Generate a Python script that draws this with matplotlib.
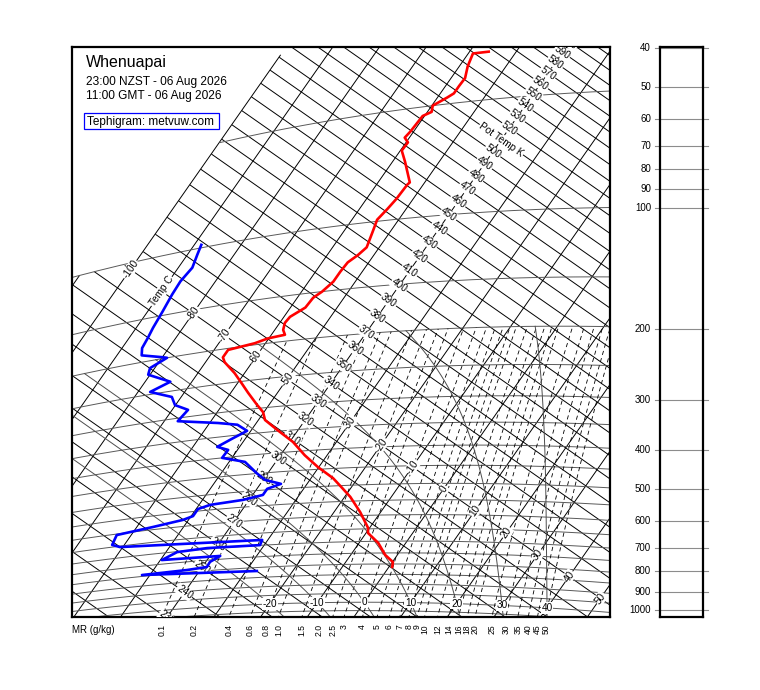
import numpy as np
import matplotlib
matplotlib.use('Agg')
import matplotlib.pyplot as plt
from matplotlib import transforms
from matplotlib.patches import Rectangle

plt.rcParams['font.family'] = ['Liberation Sans', 'DejaVu Sans']

# ---- sounding (pressure hPa, temperature C) ----
red_p = [37, 37, 40, 43, 45, 47, 48, 50, 52, 53, 58, 60, 62, 65,
         70, 80, 81, 88, 93, 99, 107, 117, 122, 127, 134, 142, 150, 155,
         164, 172, 178, 186, 192, 194, 198, 202, 211, 218, 236, 253, 270, 293,
         308, 324, 347, 377, 411, 444, 477, 507, 536, 588, 647, 666, 707, 759,
         791, 814]
red_t = [-55.9, -59.0, -58.2, -57.0, -57.1, -57.1, -57.9, -59.8, -59.1, -60.4, -60.7, -61.0, -59.6, -59.7,
         -57.3, -53.2, -53.4, -53.6, -54.0, -54.6, -53.7, -52.7, -53.4, -54.5, -54.7, -54.7, -55.6, -56.6,
         -56.8, -58.7, -58.9, -58.2, -57.1, -60.2, -62.3, -67.0, -67.0, -65.9, -62.1, -59.1, -56.3, -52.6,
         -50.2, -48.6, -44.5, -39.3, -34.8, -30.2, -25.3, -21.9, -18.8, -14.4, -10.3, -9.6, -5.9, -2.6,
         0.1, 0.7]
dew_p = [98, 104, 113, 122, 132, 146, 161, 171, 182, 191, 198, 200, 210, 219,
         235, 246, 260, 275, 287, 306, 320, 328, 343, 356, 372, 382, 400, 416,
         449, 470, 485, 497, 515, 526, 529, 533, 543, 566, 576, 590, 604, 641,
         654, 678, 699, 696, 702, 731, 735, 759, 782, 789, 793, 817]
dew_t = [-88.5, -87.9, -87.0, -87.5, -87.3, -86.8, -86.4, -86.0, -85.7, -84.7, -80.1, -78.9, -81.0, -80.4,
         -74.6, -77.4, -72.0, -70.1, -66.6, -67.1, -58.2, -53.8, -50.8, -52.7, -54.8, -52.0, -52.1, -46.6,
         -42.4, -39.6, -35.6, -37.8, -37.8, -41.3, -43.8, -47.6, -49.6, -49.6, -51.2, -56.5, -63.1, -62.6,
         -60.6, -31.2, -30.9, -41.8, -47.6, -49.7, -37.8, -39.1, -39.0, -42.8, -51.7, -27.7]

station = 'Whenuapai'
time_local = '23:00 NZST - 06 Aug 2026'
time_utc = '11:00 GMT - 06 Aug 2026'
credit = 'Tephigram: metvuw.com'

# ---- diagram lines ----
isotherms = list(range(-160, 61, 10))
adiabats = list(range(200, 651, 10))
isobars = [50] + list(range(100, 1051, 50))
temp_labels = list(range(-100, 51, 10))
theta_labels = list(range(230, 601, 10))
thetaw = [-20, -10, 0, 10, 20, 30, 40]
mr_values = [0.1, 0.2, 0.4, 0.6, 0.8, 1.0, 1.5, 2.0, 2.5, 3, 4, 5, 6, 7, 8, 9, 10,
             12, 14, 16, 18, 20, 25, 30, 35, 40, 45, 50]
mr_labels = ['0.1', '0.2', '0.4', '0.6', '0.8', '1.0', '1.5', '2.0', '2.5', '3', '4', '5', '6',
             '7', '8', '9', '10', '12', '14', '16', '18', '20', '25', '30', '35', '40', '45', '50']
pscale = [40, 50, 60, 70, 80, 90, 100, 200, 300, 400, 500, 600, 700, 800, 900, 1000]

KAPPA = 0.2857
RD, CP, LV, EPS = 287.04, 1005.7, 2.501e6, 0.622
T_REF, TH_REF = -40.0, 330.0
E_T = (3.133, -2.193)   # screen step per degC
E_L = (420.2, 600.3)    # screen step per unit ln(theta)


def theta_of(t, p):
    return (np.asarray(t, float) + 273.15) * (1000.0 / np.asarray(p, float)) ** KAPPA


def teph(t, th):
    s = np.asarray(t, float) - T_REF
    L = np.log(np.asarray(th, float) / TH_REF)
    return s * E_T[0] + L * E_L[0], s * E_T[1] + L * E_L[1]


def teph_tp(t, p):
    return teph(t, theta_of(t, p))


def outside(t, p):
    return (np.asarray(p) < 100) & (np.asarray(t) < -100)


def sat_adiabat(thw):
    def f(T, p):
        es = 6.112 * np.exp(17.67 * (T - 273.15) / (T - 29.65))
        rs = EPS * es / (p - es)
        return (RD * T + LV * rs) / (CP + LV * LV * rs * EPS / (RD * T * T)) / p
    parts = []
    for pend, h in ((200.0, -5.0), (1100.0, 5.0)):
        ps = np.arange(1000.0, pend + h * 0.5, h)
        ts = [thw + 273.15]
        for p in ps[:-1]:
            T = ts[-1]
            k1 = f(T, p)
            k2 = f(T + 0.5 * h * k1, p + 0.5 * h)
            k3 = f(T + 0.5 * h * k2, p + 0.5 * h)
            k4 = f(T + h * k3, p + h)
            ts.append(T + h * (k1 + 2 * k2 + 2 * k3 + k4) / 6)
        parts.append((ps, np.array(ts) - 273.15))
    p = np.concatenate([parts[1][0][::-1], parts[0][0][1:]])
    t = np.concatenate([parts[1][1][::-1], parts[0][1][1:]])
    return p, t


def mr_line(w, p):
    e = w / 1000.0 * p / (EPS + w / 1000.0)
    a = np.log(e / 6.112)
    return 243.5 * a / (17.67 - a)


W, H = 760, 690
fig = plt.figure(figsize=(W / 100, H / 100), dpi=100)
ax = fig.add_axes([72 / W, (H - 617) / H, 538 / W, 570 / H])
ax.set_xlim(72 - 318.4, 610 - 318.4)
ax.set_ylim(401 - 617, 401 - 47)
ax.set_xticks([])
ax.set_yticks([])
for sp in ax.spines.values():
    sp.set_linewidth(1.6)

grid_kw = dict(color='black', lw=0.7, zorder=1)

pp = np.logspace(np.log10(30), np.log10(1100), 300)
for t in isotherms:
    tt = np.full_like(pp, t, dtype=float)
    x, y = teph_tp(tt, pp)
    x[outside(tt, pp)] = np.nan
    ax.plot(x, y, **grid_kw)

tt = np.linspace(-175, 75, 400)
for th in adiabats:
    p = 1000.0 * ((tt + 273.15) / th) ** (1 / KAPPA)
    x, y = teph(tt, np.full_like(tt, th, dtype=float))
    x[outside(tt, p)] = np.nan
    ax.plot(x, y, **grid_kw)

for p0 in isobars:
    pa = np.full_like(tt, p0, dtype=float)
    x, y = teph_tp(tt, pa)
    x[outside(tt, pa)] = np.nan
    ax.plot(x, y, color='0.35', lw=0.7, zorder=1)

pm = np.linspace(1100, 200, 200)
mr_x = []
for w in mr_values:
    x, y = teph_tp(mr_line(w, pm), pm)
    ax.plot(x, y, color='black', lw=0.6, ls=(0, (5, 4)), zorder=1)
    mr_x.append(np.interp(401 - 617, y, x))

for thw in thetaw:
    p, t = sat_adiabat(thw)
    x, y = teph_tp(t, p)
    ax.plot(x, y, color='0.3', lw=0.7, zorder=1)

lab_kw = dict(fontsize=7.2, ha='center', va='center', zorder=3, clip_on=True,
              bbox=dict(boxstyle='square,pad=0.06', fc='white', ec='none'))
ang_T = np.degrees(np.arctan2(E_L[1], E_L[0]))
ang_th = np.degrees(np.arctan2(E_T[1], E_T[0]))
for t in temp_labels:
    if t == -40:
        continue
    x, y = teph(t, TH_REF)
    ax.text(x, y, 'Temp C' if t == -90 else str(t), rotation=ang_T, **lab_kw)
for th in theta_labels:
    x, y = teph(T_REF, th)
    ax.text(x, y, 'Pot Temp K' if th == 510 else str(th), rotation=ang_th, **lab_kw)
for thw in thetaw:
    x, y = teph_tp(thw, 1000)
    ax.text(x, y, str(thw), **lab_kw)

rx, ry = teph_tp(red_t, red_p)
ax.plot(rx, ry, color='#ff0000', lw=1.9, zorder=5, solid_joinstyle='round')
dx, dy = teph_tp(dew_t, dew_p)
ax.plot(dx, dy, color='#0000ff', lw=1.9, zorder=5, solid_joinstyle='round')

# header text
def fy(ypx):
    return 1 - ypx / H

fig.text(86 / W, fy(67), station, fontsize=11.5, va='baseline')
fig.text(86 / W, fy(85.5), time_local, fontsize=8.6, va='baseline')
fig.text(86 / W, fy(99), time_utc, fontsize=8.6, va='baseline')
fig.patches.append(Rectangle((84 / W, fy(128.7)), 134.7 / W, 15.4 / H, transform=fig.transFigure,
                             fill=False, ec='#0000ff', lw=0.9))
fig.text(87 / W, fy(124.5), credit, fontsize=8.5, va='baseline')

# mixing ratio labels
bx = transforms.blended_transform_factory(ax.transData, ax.transAxes)
for x, lab in zip(mr_x, mr_labels):
    ax.text(x, -7 / 570, lab, transform=bx, rotation=90, ha='center', va='top',
            fontsize=6.2, clip_on=False)
fig.text(72 / W, fy(625), 'MR (g/kg)', fontsize=7, va='top')

# pressure scale panel
ax2 = fig.add_axes([660 / W, (H - 617) / H, 43 / W, 570 / H])
ax2.set_yscale('log')
ax2.set_ylim(1041, 39.8)
ax2.set_xlim(0, 1)
ax2.set_xticks([])
ax2.set_yticks([])
ax2.minorticks_off()
for sp in ax2.spines.values():
    sp.set_linewidth(1.6)
by = transforms.blended_transform_factory(ax2.transAxes, ax2.transData)
for p in pscale:
    ax2.plot([-5 / 43, 48 / 43], [p, p], transform=by, color='0.55', lw=0.8, clip_on=False)
    ax2.text(-9 / 43, p, str(p), transform=by, ha='right', va='center', fontsize=7)

fig.savefig('out.png', dpi=100)
